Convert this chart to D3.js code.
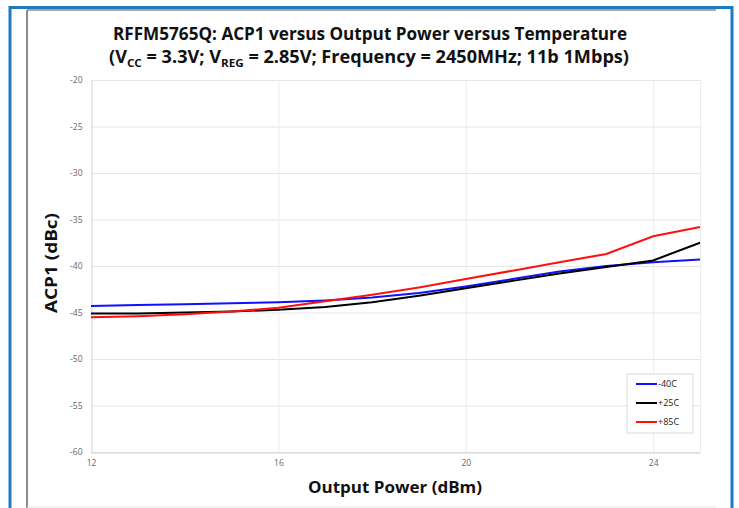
<!DOCTYPE html>
<html lang="en">
<head>
<meta charset="utf-8">
<title>RFFM5765Q ACP1</title>
<script src="https://d3js.org/d3.v7.min.js"></script>
<style>
  body { margin: 0; background: #fff; }
  .tick text { font-family: "Open Sans", sans-serif; font-size: 8.5px; fill: #666; }
  .titleT { font-family: "Open Sans", sans-serif; font-weight: bold; fill: #111; }
  .axisT { font-family: "Open Sans", sans-serif; font-weight: bold; fill: #111; }
  .legendT { font-family: "Open Sans", sans-serif; font-size: 9px; fill: #222; }
</style>
</head>
<body>
<div id="container"></div>
<script>
// output power (dBm)
var power = [12, 13, 14, 15, 16, 17, 18, 19, 20, 21, 22, 23, 24, 25];
// ACP1 (dBc) per temperature
var acpM40 = [-44.3, -44.2, -44.1, -44.0, -43.9, -43.7, -43.4, -42.9, -42.2, -41.4, -40.6, -40.0, -39.6, -39.3];
var acpP25 = [-45.1, -45.1, -45.0, -44.9, -44.7, -44.4, -43.9, -43.2, -42.4, -41.6, -40.8, -40.1, -39.4, -37.5];
var acpP85 = [-45.5, -45.4, -45.2, -44.9, -44.5, -43.8, -43.1, -42.3, -41.4, -40.5, -39.6, -38.7, -36.8, -35.8];
var seriesNames = ['-40C', '+25C', '+85C'];
var seriesColors = ['#1010ff', '#000000', '#ff1010'];
var xTicks = [12, 16, 20, 24];
var yTicks = [-60, -55, -50, -45, -40, -35, -30, -25, -20];

var W = 739, H = 508;
var margin = {top: 80, left: 91, right: 39, bottom: 56};

var svg = d3.select('#container').append('svg')
    .attr('width', W).attr('height', H);

// frames
svg.append('rect').attr('x', 27).attr('y', 10).attr('width', 690).attr('height', 497)
   .attr('fill', '#fff').attr('stroke', 'none');
svg.append('line').attr('x1', 27).attr('x2', 716).attr('y1', 10).attr('y2', 10)
   .attr('stroke', '#a6a6a6').attr('stroke-width', 2);
svg.append('line').attr('x1', 27).attr('x2', 27).attr('y1', 10).attr('y2', 508)
   .attr('stroke', '#8c8c8c').attr('stroke-width', 2);
svg.append('line').attr('x1', 27).attr('x2', 716).attr('y1', 507).attr('y2', 507)
   .attr('stroke', '#e3e3e3').attr('stroke-width', 1);
svg.append('path').attr('d', 'M10,508 V7.5 H732 V508')
   .attr('fill', 'none').attr('stroke', '#1f7bc1').attr('stroke-width', 3);

var x = d3.scaleLinear().domain([12, 25]).range([margin.left, W - margin.right]);
var y = d3.scaleLinear().domain([-60, -20]).range([H - margin.bottom, margin.top]);

// gridlines
svg.append('g').selectAll('line').data(yTicks).join('line')
   .attr('x1', x(12)).attr('x2', x(25))
   .attr('y1', d => y(d) + 0.5).attr('y2', d => y(d) + 0.5)
   .attr('stroke', '#e6e6e6');
svg.append('g').selectAll('line').data(xTicks.slice(1).concat([25])).join('line')
   .attr('x1', d => x(d) + 0.5).attr('x2', d => x(d) + 0.5)
   .attr('y1', y(-20)).attr('y2', y(-60))
   .attr('stroke', '#ececec');

// axes (plain hyphen minus like the source)
var xAxis = svg.append('g')
   .attr('transform', 'translate(0,' + (y(-60) + 0.5) + ')')
   .call(d3.axisBottom(x).tickValues(xTicks).tickSize(0).tickPadding(7)
           .tickFormat(d => String(d)));
xAxis.select('.domain').attr('stroke', '#d0d0d0');
var yAxis = svg.append('g')
   .attr('transform', 'translate(' + (x(12) + 0.5) + ',0)')
   .call(d3.axisLeft(y).tickValues(yTicks).tickSize(0).tickPadding(9)
           .tickFormat(d => String(d)));
yAxis.select('.domain').attr('stroke', '#d0d0d0');

// lines
var data = [acpM40, acpP25, acpP85];
var line = d3.line().x((d, i) => x(power[i])).y(d => y(d));
svg.append('g').selectAll('path').data(data).join('path')
   .attr('d', d => line(d))
   .attr('fill', 'none')
   .attr('stroke', (d, i) => seriesColors[i])
   .attr('stroke-width', 2);

// titles
svg.append('text').attr('class', 'titleT')
   .attr('x', 370).attr('y', 40).attr('text-anchor', 'middle')
   .attr('font-size', 17)
   .attr('textLength', 514).attr('lengthAdjust', 'spacingAndGlyphs')
   .text('RFFM5765Q: ACP1 versus Output Power versus Temperature');
var t2 = svg.append('text').attr('class', 'titleT')
   .attr('x', 369).attr('y', 63).attr('text-anchor', 'middle')
   .attr('font-size', 17)
   .attr('textLength', 520).attr('lengthAdjust', 'spacingAndGlyphs');
t2.append('tspan').text('(V');
t2.append('tspan').attr('dy', 4).attr('font-size', 11).text('CC');
t2.append('tspan').attr('dy', -4).text(' = 3.3V; V');
t2.append('tspan').attr('dy', 4).attr('font-size', 11).text('REG');
t2.append('tspan').attr('dy', -4).text(' = 2.85V; Frequency = 2450MHz; 11b 1Mbps)');

svg.append('text').attr('class', 'axisT')
   .attr('font-size', 15.5)
   .attr('text-anchor', 'middle')
   .attr('transform', 'translate(57,263) rotate(-90)')
   .attr('textLength', 100).attr('lengthAdjust', 'spacingAndGlyphs')
   .text('ACP1 (dBc)');
svg.append('text').attr('class', 'axisT')
   .attr('font-size', 16)
   .attr('text-anchor', 'middle')
   .attr('x', 395).attr('y', 493)
   .attr('textLength', 174).attr('lengthAdjust', 'spacingAndGlyphs')
   .text('Output Power (dBm)');

// legend
var lg = svg.append('g').attr('transform', 'translate(627,374)');
lg.append('rect').attr('width', 66).attr('height', 59)
   .attr('fill', '#fff').attr('stroke', '#d9d9d9');
seriesNames.forEach(function(name, i) {
    var yy = 10 + i * 19;
    lg.append('line').attr('x1', 9).attr('x2', 30).attr('y1', yy).attr('y2', yy)
      .attr('stroke', seriesColors[i]).attr('stroke-width', 2);
    lg.append('text').attr('class', 'legendT').attr('x', 31).attr('y', yy + 3)
      .text(name);
});
</script>
</body>
</html>
